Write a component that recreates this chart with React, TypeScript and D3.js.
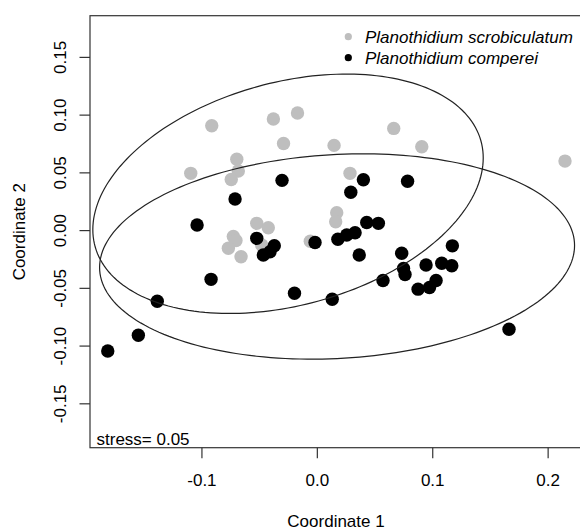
import React from "react";
import * as d3 from "d3";

const W = 580;
const H = 530;

// Planothidium scrobiculatum (gray)
const grayX = [-0.0915, -0.0381, -0.0172, -0.0293, 0.0145, 0.0662, 0.0905, 0.2146, -0.1097, -0.0698, -0.0685, -0.0746, 0.0283, 0.0168, 0.0159, -0.0525, -0.0425, -0.0728, -0.0705, -0.0771, -0.0661, -0.0482, -0.0061];
const grayY = [0.0908, 0.0966, 0.1018, 0.0754, 0.0738, 0.0885, 0.0726, 0.0602, 0.0496, 0.0618, 0.0516, 0.0442, 0.0496, 0.0155, 0.0077, 0.0063, 0.0025, -0.0051, -0.0086, -0.0153, -0.0226, -0.0125, -0.0092];

// Planothidium comperei (black)
const blackX = [-0.0306, -0.0713, -0.1042, 0.0399, 0.029, 0.0782, 0.0428, 0.0529, -0.0525, -0.0468, -0.041, -0.0373, -0.002, 0.0178, 0.0255, 0.0327, 0.0363, -0.0921, -0.1387, -0.1551, -0.1816, -0.0198, 0.0129, 0.0569, 0.0731, 0.0747, 0.076, 0.0942, 0.1078, 0.1165, 0.117, 0.1029, 0.0972, 0.0873, 0.1661];
const blackY = [0.0435, 0.0274, 0.0048, 0.0441, 0.0332, 0.0427, 0.007, 0.0063, -0.0067, -0.0211, -0.0183, -0.0131, -0.0103, -0.0075, -0.0038, -0.0019, -0.0211, -0.0422, -0.0612, -0.0906, -0.1042, -0.0543, -0.0594, -0.0432, -0.0196, -0.0328, -0.038, -0.0298, -0.0283, -0.0304, -0.0132, -0.0432, -0.0493, -0.0507, -0.0854];

// ellipse parameters: centre and covariance (data units, 95% scaled)
const ellipseGray = [-0.0254, 0.0319, 0.028612, 0.010744, 0.00525];
const ellipseBlack = [0.0171, -0.0224, 0.042351, 0.007904, 0.00195];

const xTicks = [-0.1, 0.0, 0.1, 0.2];
const yTicks = [-0.15, -0.1, -0.05, 0.0, 0.05, 0.1, 0.15];
const legendLabels = ["Planothidium scrobiculatum", "Planothidium comperei"];
const stressLabel = "stress= 0.05";

const left = 90, top = 15.7, bottom = 447.7;
const x = d3.scaleLinear().domain([-0.197, 0.232]).range([left, left + 0.429 * 1154]);
const y = d3.scaleLinear().domain([-0.188, 0.1861]).range([bottom, top]);

function ellipsePath(p: number[]) {
  const [cx, cy, sxx, syy, sxy] = p;
  const l11 = Math.sqrt(sxx);
  const l21 = sxy / l11;
  const l22 = Math.sqrt(syy - l21 * l21);
  const pts: [number, number][] = d3.range(0, 201).map((i) => {
    const t = (i / 200) * 2 * Math.PI;
    return [cx + l11 * Math.cos(t), cy + l21 * Math.cos(t) + l22 * Math.sin(t)];
  });
  return d3.line<[number, number]>().x((d) => x(d[0])).y((d) => y(d[1]))(pts) || "";
}

const font = "'Liberation Sans', Arial, sans-serif";

export default function App() {
  const r = 6.7;
  return (
    <svg width={W} height={H} style={{ position: "absolute", left: 0, top: 0, background: "#fff" }} fontFamily={font}>
      <rect x={0} y={0} width={W} height={H} fill="#fff" />
      {/* box */}
      <rect x={left} y={top} width={x.range()[1] - left} height={bottom - top} fill="none" stroke="#333" strokeWidth={1.2} />
      {/* x axis */}
      {xTicks.map((t) => (
        <g key={"x" + t}>
          <line x1={x(t)} x2={x(t)} y1={bottom} y2={bottom + 10.5} stroke="#333" strokeWidth={1.2} />
          <text x={x(t)} y={485.5} fontSize={17} textAnchor="middle" fill="#000">{t.toFixed(1)}</text>
        </g>
      ))}
      {yTicks.map((t) => (
        <g key={"y" + t}>
          <line x1={left} x2={left - 10.5} y1={y(t)} y2={y(t)} stroke="#333" strokeWidth={1.2} />
          <text transform={`translate(65.5,${y(t)}) rotate(-90)`} fontSize={17} textAnchor="middle" fill="#000">{t.toFixed(2)}</text>
        </g>
      ))}
      <text x={336} y={526.5} fontSize={17} textAnchor="middle">Coordinate 1</text>
      <text transform={`translate(24.5,${(top + bottom) / 2}) rotate(-90)`} fontSize={17} textAnchor="middle">Coordinate 2</text>
      {/* points */}
      {grayX.map((v, i) => (
        <circle key={"g" + i} cx={x(v)} cy={y(grayY[i])} r={r} fill="#BEBEBE" />
      ))}
      {blackX.map((v, i) => (
        <circle key={"b" + i} cx={x(v)} cy={y(blackY[i])} r={r} fill="#000" />
      ))}
      {/* ellipses */}
      <path d={ellipsePath(ellipseGray)} fill="none" stroke="#222" strokeWidth={1.2} />
      <path d={ellipsePath(ellipseBlack)} fill="none" stroke="#222" strokeWidth={1.2} />
      {/* legend */}
      <circle cx={348.3} cy={36.7} r={3.6} fill="#BEBEBE" />
      <circle cx={348.3} cy={57.7} r={3.6} fill="#000" />
      <text x={365} y={43.3} fontSize={17} fontStyle="italic">{legendLabels[0]}</text>
      <text x={365} y={64.3} fontSize={17} fontStyle="italic">{legendLabels[1]}</text>
      <text x={96.5} y={444.5} fontSize={17}>{stressLabel}</text>
    </svg>
  );
}
